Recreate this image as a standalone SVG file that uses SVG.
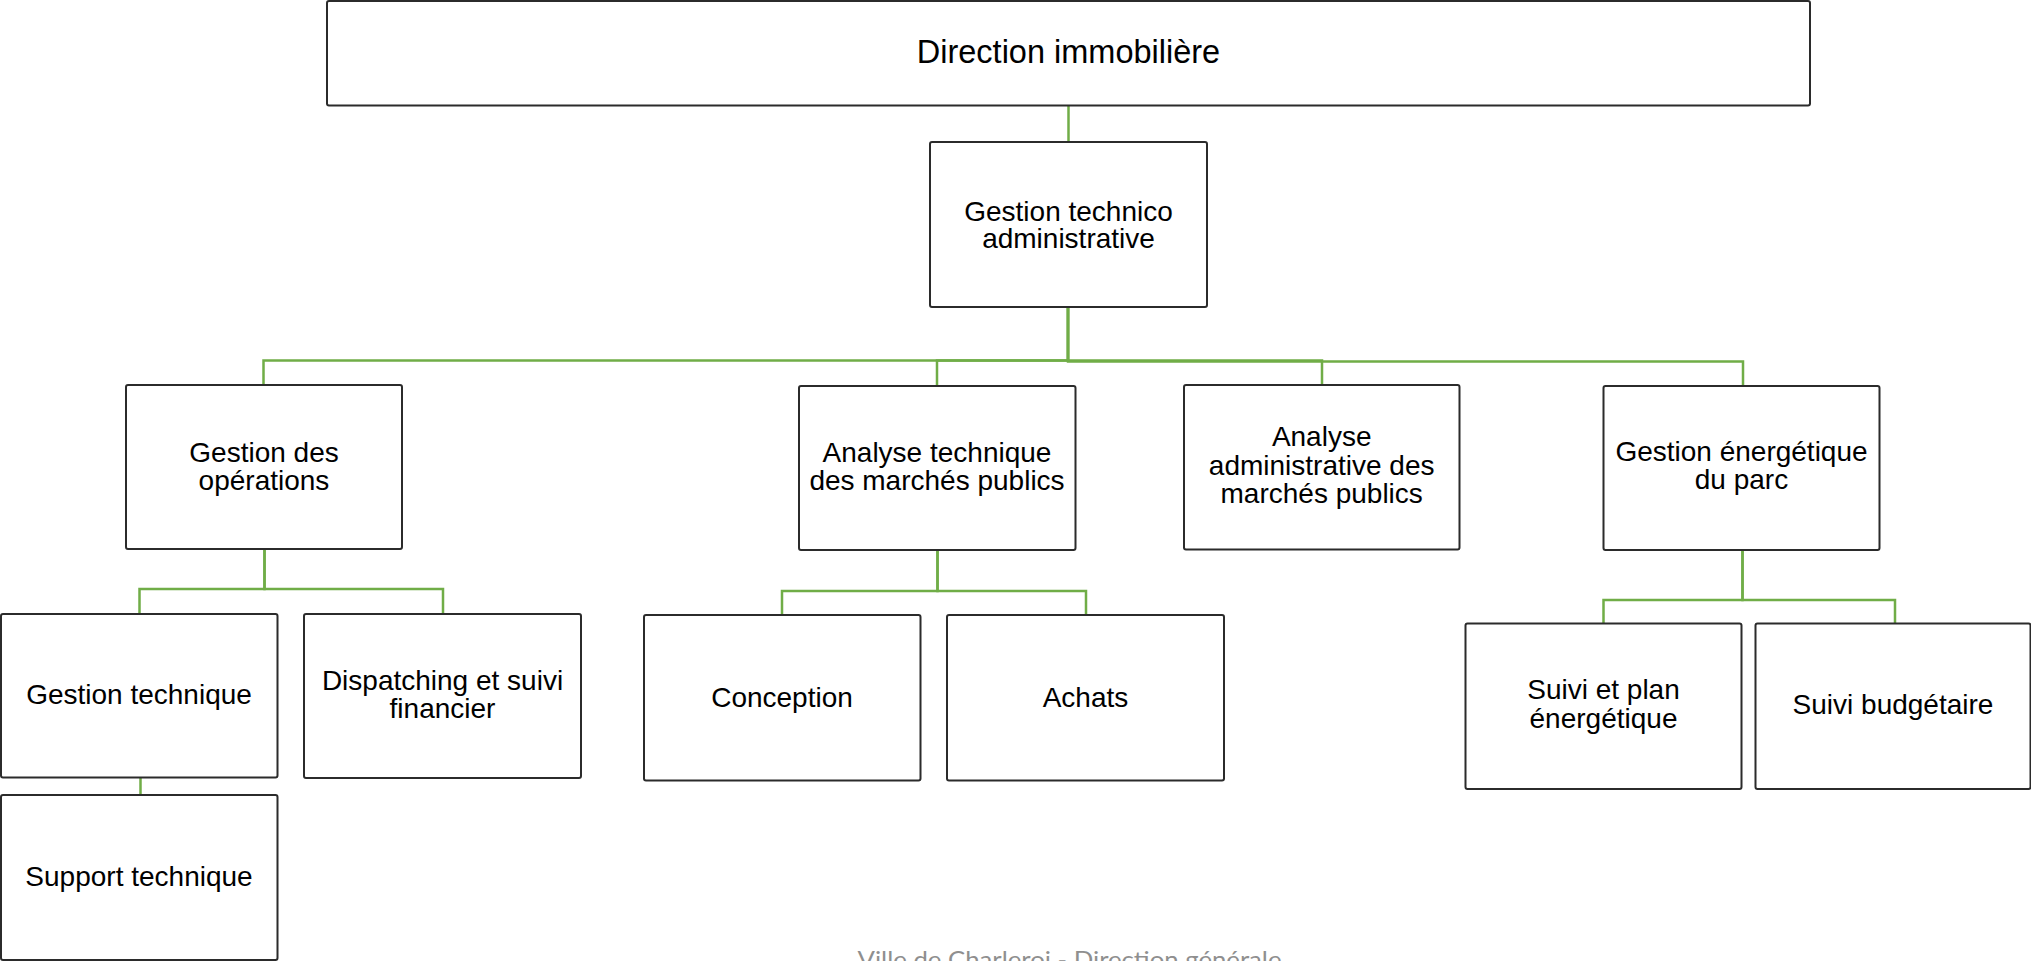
<svg xmlns="http://www.w3.org/2000/svg" width="2031" height="961" viewBox="0 0 2031 961">
<style>
.box{fill:#ffffff;stroke:#2b2b2b;stroke-width:2}
.lbl{font-family:"Liberation Sans",Arial,sans-serif;font-size:28px;fill:#000000;text-anchor:middle}
.title{font-size:32.5px}
.con{fill:none;stroke:#70AD47;stroke-width:2.5}
.foot{font-family:Lato,"Open Sans",sans-serif;font-size:24px;fill:#8f8f8f;text-anchor:middle}
</style>
<rect x="0" y="0" width="2031" height="961" fill="#ffffff"/>
<g id="connectors">
<path class="con" d="M1068.5,105.5 V142"/>
<path class="con" d="M1068,307 V360.5 H263.5 V385"/>
<path class="con" d="M1068,307 V360.5 H937 V386"/>
<path class="con" d="M1068,307 V360.5 H1322 V385"/>
<path class="con" d="M1068,307 V361.5 H1743 V386"/>
<path class="con" d="M264.5,549 V589 H139.5 V614"/>
<path class="con" d="M264.5,549 V589 H443 V614"/>
<path class="con" d="M140.5,777.5 V795"/>
<path class="con" d="M937.5,550 V591 H782 V615"/>
<path class="con" d="M937.5,550 V591 H1086 V615"/>
<path class="con" d="M1742.5,550 V600 H1603.5 V623.5"/>
<path class="con" d="M1742.5,550 V600 H1895 V623.5"/>
</g>
<g id="n-direction">
<rect class="box" x="327" y="1" width="1483" height="104.5" rx="2"/>
<text class="lbl title" x="1068.5" y="63">Direction immobilière</text>
</g>
<g id="n-gta">
<rect class="box" x="930" y="142" width="277" height="165" rx="2"/>
<text class="lbl" x="1068.5" y="220.5">Gestion technico</text>
<text class="lbl" x="1068.5" y="247.5">administrative</text>
</g>
<g id="n-gdo">
<rect class="box" x="126" y="385" width="276" height="164" rx="2"/>
<text class="lbl" x="264" y="462">Gestion des</text>
<text class="lbl" x="264" y="489.5">opérations</text>
</g>
<g id="n-atmp">
<rect class="box" x="799" y="386" width="276.5" height="164" rx="2"/>
<text class="lbl" x="937" y="461.5">Analyse technique</text>
<text class="lbl" x="937" y="489.5">des marchés publics</text>
</g>
<g id="n-aamp">
<rect class="box" x="1184" y="385" width="275.5" height="164.5" rx="2"/>
<text class="lbl" x="1321.7" y="446">Analyse</text>
<text class="lbl" x="1321.7" y="474.5">administrative des</text>
<text class="lbl" x="1321.7" y="503">marchés publics</text>
</g>
<g id="n-gep">
<rect class="box" x="1603.5" y="386" width="276" height="164" rx="2"/>
<text class="lbl" x="1741.5" y="461">Gestion énergétique</text>
<text class="lbl" x="1741.5" y="489">du parc</text>
</g>
<g id="n-gt">
<rect class="box" x="1" y="614" width="276.5" height="163.5" rx="2"/>
<text class="lbl" x="139" y="703.5">Gestion technique</text>
</g>
<g id="n-dsf">
<rect class="box" x="304" y="614" width="277" height="164" rx="2"/>
<text class="lbl" x="442.5" y="690">Dispatching et suivi</text>
<text class="lbl" x="442.5" y="718">financier</text>
</g>
<g id="n-st">
<rect class="box" x="1" y="795" width="276.5" height="165" rx="2"/>
<text class="lbl" x="139" y="886">Support technique</text>
</g>
<g id="n-conception">
<rect class="box" x="644" y="615" width="276.5" height="165.5" rx="2"/>
<text class="lbl" x="782" y="706.5">Conception</text>
</g>
<g id="n-achats">
<rect class="box" x="947" y="615" width="277" height="165.5" rx="2"/>
<text class="lbl" x="1085.5" y="706.5">Achats</text>
</g>
<g id="n-spe">
<rect class="box" x="1465.5" y="623.5" width="276" height="165.5" rx="2"/>
<text class="lbl" x="1603.5" y="699">Suivi et plan</text>
<text class="lbl" x="1603.5" y="727.5">énergétique</text>
</g>
<g id="n-sb">
<rect class="box" x="1755.5" y="623.5" width="275" height="165.5" rx="2"/>
<text class="lbl" x="1893" y="713.5">Suivi budgétaire</text>
</g>
<text class="foot" x="1069.5" y="968" textLength="424" lengthAdjust="spacingAndGlyphs">Ville de Charleroi - Direction générale</text>
</svg>
